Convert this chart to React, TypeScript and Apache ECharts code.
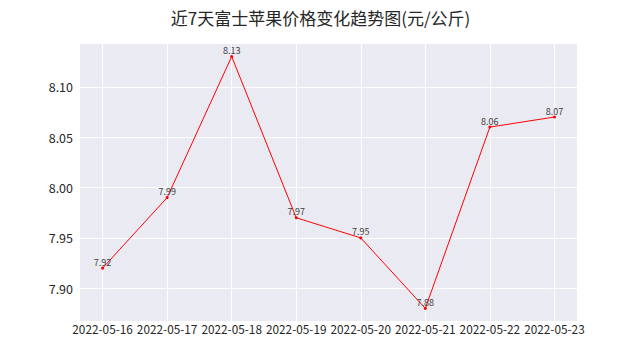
import React, { useEffect, useRef } from "react";
import * as echarts from "echarts";

const dates = ["2022-05-16", "2022-05-17", "2022-05-18", "2022-05-19", "2022-05-20", "2022-05-21", "2022-05-22", "2022-05-23"];
const prices = [7.92, 7.99, 8.13, 7.97, 7.95, 7.88, 8.06, 8.07];
const yTicks = [7.9, 7.95, 8.0, 8.05, 8.1];
const titleText = "近7天富士苹果价格变化趋势图(元/公斤)";

const FONT = "'Noto Sans CJK SC', 'DejaVu Sans', sans-serif";

export default function App() {
  const ref = useRef<HTMLDivElement>(null);
  useEffect(() => {
    if (!ref.current) return;
    const chart = echarts.init(ref.current, undefined, { renderer: "svg" });
    const xIdx = dates.map((_, i) => i);
    const n = dates.length - 1;
    const yMin = Math.min(...prices);
    const yMax = Math.max(...prices);
    const yPad = (yMax - yMin) * 0.05;
    chart.setOption({
      animation: false,
      backgroundColor: "#ffffff",
      title: {
        text: titleText,
        left: "center",
        top: 4,
        textStyle: { fontFamily: FONT, fontSize: 17, fontWeight: "normal", color: "#262626" },
      },
      grid: { left: 80, right: 64, top: 44, bottom: 40, show: true, backgroundColor: "#EAEAF2", borderWidth: 0 },
      xAxis: {
        type: "value",
        min: -0.05 * n,
        max: n + 0.05 * n,
        axisLine: { show: false },
        axisTick: { show: false, customValues: xIdx },
        axisLabel: {
          customValues: xIdx,
          formatter: (v: number) => dates[Math.round(v)] ?? "",
          fontFamily: FONT,
          fontSize: 11.8,
          color: "#262626",
          margin: 2,
        },
        splitLine: { show: true, lineStyle: { color: "#ffffff", width: 1 } },
      },
      yAxis: {
        type: "value",
        min: yMin - yPad,
        max: yMax + yPad,
        axisLine: { show: false },
        axisTick: { show: false, customValues: yTicks },
        axisLabel: {
          customValues: yTicks,
          formatter: (v: number) => v.toFixed(2),
          fontFamily: FONT,
          fontSize: 12.5,
          color: "#262626",
          margin: 7,
        },
        splitLine: { show: true, lineStyle: { color: "#ffffff", width: 1 } },
      },
      series: [
        {
          type: "line",
          data: prices.map((p, i) => [i, p]),
          symbol: "circle",
          symbolSize: 3,
          itemStyle: { color: "#ff0000" },
          lineStyle: { color: "#ff0000", width: 1 },
          label: {
            show: true,
            position: "top",
            distance: 0,
            formatter: (p: any) => p.value[1].toFixed(2),
            fontFamily: FONT,
            fontSize: 9,
            color: "#404040",
          },
        },
      ],
    });
    return () => chart.dispose();
  }, []);
  return <div ref={ref} style={{ position: "fixed", left: 0, top: 0, width: 641, height: 361 }} />;
}
